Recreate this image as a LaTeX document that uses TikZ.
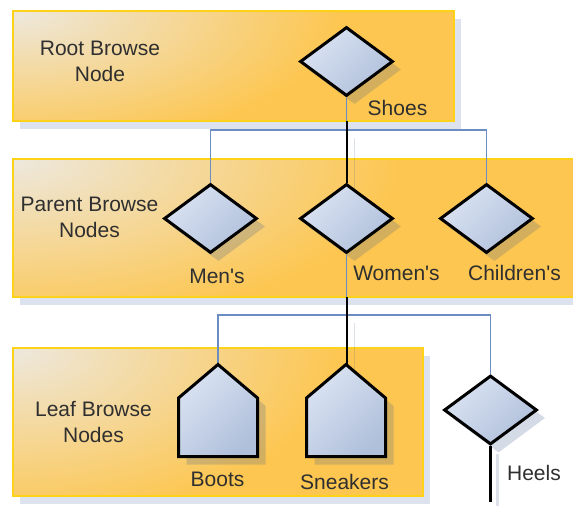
\documentclass[tikz,border=0pt]{standalone}
\usepackage{fontspec}
\newfontfamily\lblfont{Liberation Sans}
\usetikzlibrary{shapes.geometric}
\definecolor{bandlight}{HTML}{EDE8DE}
\definecolor{bandorange}{HTML}{FDC650}
\definecolor{bandborder}{HTML}{FFD21A}
\definecolor{bandshadow}{HTML}{DCE3EF}
\definecolor{shapelight}{HTML}{DAE3F2}
\definecolor{shapedark}{HTML}{B0C0DB}
\definecolor{treeblue}{HTML}{6B8DC2}
\definecolor{shadowblue}{HTML}{3C5A8C}
\definecolor{labelgrey}{HTML}{2F2F2F}
\pgfdeclarelayer{bandlayer}
\pgfdeclarelayer{shadowlayer}
\pgfdeclarelayer{linelayer}
\pgfsetlayers{bandlayer,shadowlayer,linelayer,main}
% band: x1 y1 x2 y2 rx ry
\newcommand\bandbox[6]{%
  \fill[bandshade] (#1+7,#2+8) rectangle (#3+7,#4+8);
  \fill[bandorange] (#1,#2) rectangle (#3,#4);
  \begin{scope}
    \clip (#1,#2) rectangle (#3,#4);
    \shade[inner color=bandlight, outer color=bandorange] (#1-#5,#2-#6) rectangle (#1+#5,#2+#6);
  \end{scope}
  \draw[bandedge] (#1,#2) rectangle (#3,#4);
}
\begin{document}
\begin{tikzpicture}[x=1pt,y=-1pt,
  bandedge/.style={draw=bandborder, line width=2.5pt},
  bandshade/.style={fill=bandshadow},
  browse/.style={shape=diamond, draw=black, line width=3pt, minimum width=93pt, minimum height=69pt, inner sep=0pt, top color=shapelight, bottom color=shapedark, shading angle=45},
  browseshadow/.style={shape=diamond, fill=shadowblue, fill opacity=0.22, minimum width=93pt, minimum height=69pt, inner sep=0pt},
  leaf/.style={draw=black, line width=3pt, top color=shapelight, bottom color=shapedark, shading angle=45},
  leafshadow/.style={fill=shadowblue, fill opacity=0.22},
  tree/.style={draw=treeblue, line width=1.5pt},
  mainpath/.style={draw=black, line width=2pt},
  connshadow/.style={draw=shadowblue, draw opacity=0.18, line width=1.5pt},
  lbl/.style={text=labelgrey, font=\lblfont\fontsize{21}{26}\selectfont, inner sep=0pt, align=center}
]
\useasboundingbox (0,0) rectangle (573,506);

% bands
\begin{pgfonlayer}{bandlayer}
\bandbox{13}{11}{454}{121}{330}{140}
\bandbox{13}{159}{580}{297}{390}{170}
\bandbox{13}{348}{423}{496}{330}{175}
\end{pgfonlayer}

% browse nodes
\node[browse] (shoes) at (346.5,61.5) {};
\node[browse] (mens) at (210.5,218.5) {};
\node[browse] (womens) at (346.5,218.5) {};
\node[browse] (childrens) at (486.5,218.5) {};
\node[browse] (heels) at (490.5,410) {};

% leaf nodes (house shapes)
\path[leaf] (178.5,456.5) -- (178.5,398) -- (218,364.5) -- (257.5,398) -- (257.5,456.5) -- cycle;
\path[leaf] (306.5,456.5) -- (306.5,398) -- (346,364.5) -- (385.5,398) -- (385.5,456.5) -- cycle;
\coordinate (bootstop) at (218,364.5);
\coordinate (sneakerstop) at (346.5,364.5);

% shadows
\begin{pgfonlayer}{shadowlayer}
\node[browseshadow] (shoesS) at (354.5,69.5) {};
\node[browseshadow] (mensS) at (218.5,226.5) {};
\node[browseshadow] (womensS) at (354.5,226.5) {};
\node[browseshadow] (childrensS) at (494.5,226.5) {};
\node[browseshadow] (heelsS) at (498.5,418) {};
\path[leafshadow] (186.5,464.5) -- (186.5,406) -- (226,372.5) -- (265.5,406) -- (265.5,464.5) -- cycle;
\path[leafshadow] (314.5,464.5) -- (314.5,406) -- (354,372.5) -- (393.5,406) -- (393.5,464.5) -- cycle;
\end{pgfonlayer}

% connectors
\coordinate (j1) at (346.5,130);
\coordinate (j2) at (346.5,315);
\coordinate (b1) at (346.5,121);
\coordinate (b2) at (346.5,297);
\coordinate (heelsend) at (490.5,502);
\begin{pgfonlayer}{linelayer}
\draw[connshadow, transform canvas={shift={(8pt,-8pt)}}] (j1) -- (womens.north);
\draw[connshadow, transform canvas={shift={(8pt,-8pt)}}] (j2) -- (sneakerstop);
\draw[connshadow, line width=3pt, transform canvas={shift={(7pt,-8pt)}}] (heels.south) -- (heelsend);
\draw[tree] (shoes.south) -- (j1);
\draw[tree] (j1) -| (mens.north);
\draw[tree] (j1) -| (childrens.north);
\draw[tree] (j1) -- (womens.north);
\draw[tree] (womens.south) -- (j2);
\draw[tree] (j2) -| (bootstop);
\draw[tree] (j2) -| (heels.north);
\draw[tree] (j2) -- (sneakerstop);
\draw[mainpath] (b1) -- (womens.north);
\draw[mainpath] (b2) -- (sneakerstop);
\draw[draw=black, line width=3pt] (heels.south) -- (heelsend);
\end{pgfonlayer}

% labels
\node[lbl] (rootlbl) at (100,61.5) {Root Browse\\Node};
\node[lbl] (shoeslbl) at (397.5,108) {Shoes};
\node[lbl] (parentlbl) at (89.5,217.5) {Parent Browse\\Nodes};
\node[lbl] (menslbl) at (217,276) {Men's};
\node[lbl] (womenslbl) at (396.5,273) {Women's};
\node[lbl] (childrenslbl) at (514.5,273) {Children's};
\node[lbl] (leaflbl) at (93.5,422) {Leaf Browse\\Nodes};
\node[lbl] (bootslbl) at (217.5,479) {Boots};
\node[lbl] (sneakerslbl) at (344.5,482) {Sneakers};
\node[lbl] (heelslbl) at (534,473) {Heels};
\end{tikzpicture}
\end{document}
